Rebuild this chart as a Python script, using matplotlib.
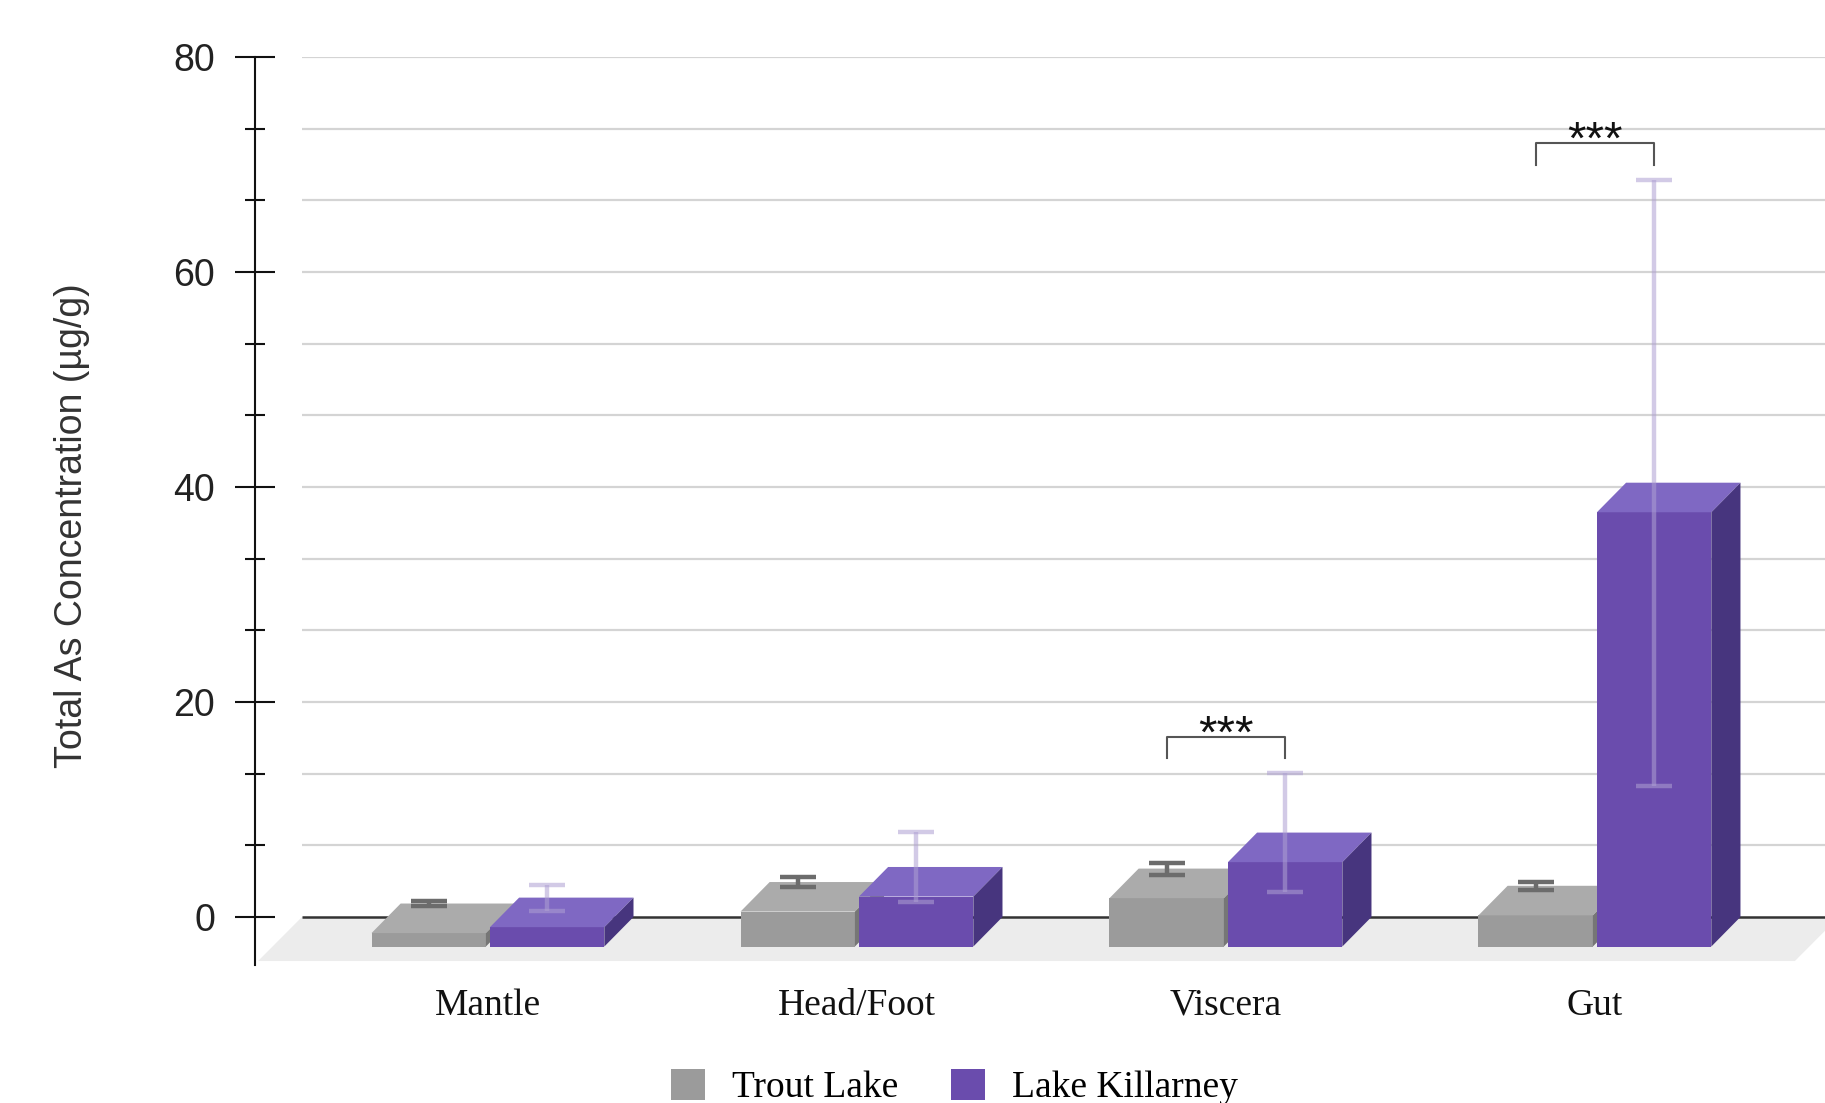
import matplotlib.pyplot as plt
from matplotlib.patches import Patch
from matplotlib.ticker import MultipleLocator

categories = ["Mantle", "Head/Foot", "Viscera", "Gut"]
series = ["Trout Lake", "Lake Killarney"]
trout_mean = [1.25, 3.25, 4.5, 2.9]
trout_sd = [0.25, 0.45, 0.55, 0.35]
killarney_mean = [1.8, 4.65, 7.85, 40.4]
killarney_sd = [1.2, 3.25, 5.5, 28.2]
signif = ["", "", "***", "***"]

# pseudo-3d geometry: x in category units, y in ug/g on the back wall
bar_w = 0.31
gap = 0.011
depth_x = 0.079
depth_y = 2.75
floor_x0, floor_x1 = -0.623, 3.542
floor_dx, floor_dy = 0.119, 4.1

styles = {
    "Trout Lake": dict(front="#9b9b9b", top="#ababab", side="#767676", err="#6c6c6c", alpha=1.0),
    "Lake Killarney": dict(front="#6a4cad", top="#7f68c3", side="#47357e", err="#aea0d2", alpha=0.55),
}

plt.rcParams["font.family"] = ["Liberation Sans", "DejaVu Sans"]
serif = "Liberation Serif"

fig = plt.figure(figsize=(18.25, 11.03), dpi=100)
ax = fig.add_axes([0.1397, 0.1251, 0.886, 0.8232])
ax.set_xlim(-0.6314, 3.7507)
ax.set_ylim(-4.47, 80)

# floor and back wall
ax.fill([floor_x0, floor_x1, floor_x1 + floor_dx, floor_x0 + floor_dx],
        [-floor_dy, -floor_dy, 0, 0], color="#ececec", lw=0, zorder=0)
wall_x0, wall_x1 = floor_x0 + floor_dx, floor_x1 + floor_dx
grid_vals = [20 / 3 * k for k in range(1, 13)]
ax.hlines(grid_vals, wall_x0, wall_x1, color="#d4d4d4", lw=1.6, zorder=1)
ax.hlines(0, wall_x0, wall_x1, color="#333333", lw=1.8, zorder=1)


def draw_box(x0, v, st):
    x1 = x0 + bar_w
    ax.fill([x0, x1, x1, x0], [-depth_y, -depth_y, v - depth_y, v - depth_y],
            color=st["front"], lw=0, zorder=3)
    ax.fill([x0, x1, x1 + depth_x, x0 + depth_x], [v - depth_y, v - depth_y, v, v],
            color=st["top"], lw=0, zorder=3)
    ax.fill([x1, x1 + depth_x, x1 + depth_x, x1], [-depth_y, 0, v, v - depth_y],
            color=st["side"], lw=0, zorder=3)


for i, cat in enumerate(categories):
    xs = [i - gap / 2 - bar_w, i + gap / 2]
    means = [trout_mean[i], killarney_mean[i]]
    sds = [trout_sd[i], killarney_sd[i]]
    for name, x0, m in zip(series, xs, means):
        draw_box(x0, m, styles[name])
    for name, x0, m, s in zip(series, xs, means, sds):
        st = styles[name]
        ax.errorbar(x0 + bar_w / 2, m, yerr=s, fmt="none", ecolor=st["err"],
                    alpha=st["alpha"], elinewidth=3.2, capsize=13, capthick=3.2, zorder=4)
    if signif[i]:
        xl, xr = xs[0] + bar_w / 2, xs[1] + bar_w / 2
        top = max(m + s for m, s in zip(means, sds))
        y0, y1 = top + 1.4, top + 3.4
        ax.plot([xl, xl, xr, xr], [y0, y1, y1, y0], color="#555555", lw=1.5, zorder=4)
        ax.text((xl + xr) / 2, y1 - 1.0, signif[i], ha="center", va="baseline",
                fontsize=34, color="#111111", zorder=5)
    ax.text(i, -9.1, cat, ha="center", va="baseline", family=serif,
            fontsize=27, color="#111111", clip_on=False)

# axes
for side in ["top", "right", "bottom"]:
    ax.spines[side].set_visible(False)
ax.spines["left"].set_linewidth(1.5)
ax.spines["left"].set_color("#111111")
ax.set_xticks([])
ax.yaxis.set_major_locator(MultipleLocator(20))
ax.yaxis.set_minor_locator(MultipleLocator(20 / 3))
ax.tick_params(axis="y", which="major", direction="inout", length=28.8, width=1.5,
               pad=14.4, labelsize=27, labelcolor="#222222", color="#111111")
ax.tick_params(axis="y", which="minor", direction="inout", length=14.4, width=1.5,
               color="#111111")

fig.text(72 / 1825, 1 - 526 / 1103, "Total As Concentration (µg/g)", rotation=90,
         ha="center", va="center", fontsize=27, color="#333333")

handles = [Patch(facecolor=styles[n]["front"], edgecolor="none", label=n) for n in series]
fig.legend(handles=handles, loc="center", bbox_to_anchor=(0.523, 0.0145), ncol=2,
           frameon=False, prop={"family": serif, "size": 27}, handlelength=0.9,
           handleheight=0.9, handletextpad=0.72, columnspacing=1.4)

fig.savefig("out.png", dpi=100)
